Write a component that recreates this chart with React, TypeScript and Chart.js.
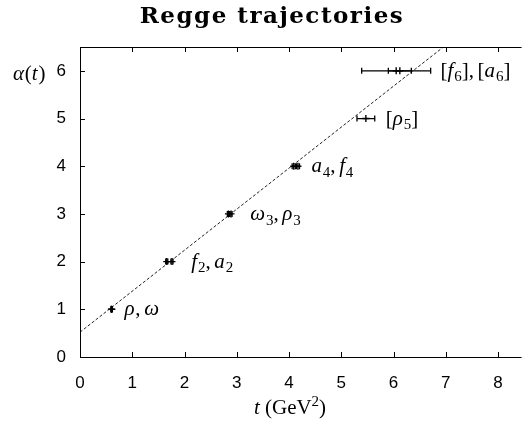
import React, { useEffect, useRef } from 'react';
import { Chart, registerables } from 'chart.js';

Chart.register(...registerables);

// Meson states along the leading Regge trajectory
const spins = [1, 1, 2, 2, 3, 3, 4, 4, 5, 6, 6];
const squaredMasses = [0.6, 0.61, 1.66, 1.76, 2.84, 2.89, 4.09, 4.17, 5.47, 6.12, 6.05];
const massErrors = [0.01, 0.01, 0.02, 0.02, 0.02, 0.02, 0.03, 0.03, 0.17, 0.22, 0.66];

// Linear trajectory alpha(t) = 0.52 + 0.86 t, given by its two end points
const trajectoryT = [0, 7.6];
const trajectoryAlpha = [0.52, 7.056];

// Text labels next to each group of states
const labelTexts = ['ρ,ω', 'f2,a2', 'ω3,ρ3', 'a4,f4', '[ρ5]', '[f6],[a6]'];
const labelT = [0.85, 2.13, 3.26, 4.43, 5.85, 6.9];
const labelAlpha = [1, 2, 3, 4, 5, 6];

const xTicks = [0, 1, 2, 3, 4, 5, 6, 7, 8];
const yTicks = [0, 1, 2, 3, 4, 5, 6];

const SERIF = '"Liberation Serif", "DejaVu Serif", serif';
const SANS = '"Liberation Sans", Arial, sans-serif';

// Draws a short math string: letters italic, digits as subscripts, punctuation upright
function drawMath(ctx: CanvasRenderingContext2D, text: string, x: number, baseline: number, size: number) {
  let cx = x;
  for (const ch of text) {
    if (/[0-9]/.test(ch)) {
      ctx.font = `${Math.round(size * 0.72)}px ${SERIF}`;
      ctx.fillText(ch, cx, baseline + size * 0.22);
      cx += ctx.measureText(ch).width;
    } else if (ch === ',') {
      ctx.font = `${size}px ${SERIF}`;
      ctx.fillText(ch, cx, baseline);
      cx += ctx.measureText(ch).width + size * 0.17;
    } else if ('[]()'.includes(ch)) {
      ctx.font = `${size}px ${SERIF}`;
      ctx.fillText(ch, cx, baseline);
      cx += ctx.measureText(ch).width;
    } else {
      ctx.font = `italic ${size}px ${SERIF}`;
      ctx.fillText(ch, cx, baseline);
      cx += ctx.measureText(ch).width + size * 0.04;
    }
  }
  return cx - x;
}

const decorPlugin = {
  id: 'reggeDecor',
  afterDatasetsDraw(chart: any) {
    const { ctx, chartArea, scales } = chart;
    const xs = scales.x;
    const ys = scales.y;
    ctx.save();
    ctx.beginPath();
    ctx.rect(chartArea.left, chartArea.top, chartArea.right - chartArea.left, chartArea.bottom - chartArea.top);
    ctx.clip();

    // horizontal error bars with end caps
    ctx.strokeStyle = '#000';
    ctx.lineWidth = 1.3;
    for (let i = 0; i < spins.length; i++) {
      const y = ys.getPixelForValue(spins[i]);
      const x0 = xs.getPixelForValue(squaredMasses[i] - massErrors[i]);
      const x1 = xs.getPixelForValue(squaredMasses[i] + massErrors[i]);
      ctx.beginPath();
      ctx.moveTo(x0, y);
      ctx.lineTo(x1, y);
      ctx.moveTo(x0, y - 3);
      ctx.lineTo(x0, y + 3);
      ctx.moveTo(x1, y - 3);
      ctx.lineTo(x1, y + 3);
      ctx.stroke();
    }
    ctx.restore();

    // state labels
    ctx.save();
    ctx.fillStyle = '#000';
    ctx.textBaseline = 'alphabetic';
    ctx.textAlign = 'left';
    for (let i = 0; i < labelTexts.length; i++) {
      const x = xs.getPixelForValue(labelT[i]);
      const y = ys.getPixelForValue(labelAlpha[i]);
      drawMath(ctx, labelTexts[i], x, y + 6, 21);
    }
    ctx.restore();
  },
  afterDraw(chart: any) {
    const { ctx, chartArea, scales } = chart;
    const xs = scales.x;
    const ys = scales.y;
    const { left, right, top, bottom } = chartArea;
    ctx.save();
    ctx.strokeStyle = '#000';
    ctx.lineWidth = 1;

    // frame: left, bottom and top edges
    ctx.beginPath();
    ctx.moveTo(left + 0.5, top + 0.5);
    ctx.lineTo(left + 0.5, bottom + 0.5);
    ctx.lineTo(right, bottom + 0.5);
    ctx.moveTo(left, top + 0.5);
    ctx.lineTo(right, top + 0.5);
    ctx.stroke();

    // inward tick marks
    ctx.beginPath();
    for (const v of xTicks) {
      const px = Math.round(xs.getPixelForValue(v)) + 0.5;
      ctx.moveTo(px, bottom);
      ctx.lineTo(px, bottom - 5);
      ctx.moveTo(px, top);
      ctx.lineTo(px, top + 5);
    }
    for (const v of yTicks) {
      const py = Math.round(ys.getPixelForValue(v)) + 0.5;
      ctx.moveTo(left, py);
      ctx.lineTo(left + 5, py);
    }
    ctx.stroke();

    ctx.fillStyle = '#000';
    ctx.textBaseline = 'alphabetic';

    // title
    ctx.font = `bold 23px "DejaVu Serif", serif`;
    (ctx as any).letterSpacing = '1.5px';
    ctx.textAlign = 'center';
    ctx.fillText('Regge trajectories', 272, 23);
    (ctx as any).letterSpacing = '0px';

    // y-axis label alpha(t)
    ctx.textAlign = 'left';
    drawMath(ctx, 'α(t)', 13, ys.getPixelForValue(6) + 9, 21);

    // x-axis label t (GeV^2)
    const size = 21;
    const baseline = 414;
    ctx.font = `italic ${size}px ${SERIF}`;
    const wT = ctx.measureText('t').width;
    ctx.font = `${size}px ${SERIF}`;
    const wSpace = ctx.measureText(' (GeV').width;
    const wClose = ctx.measureText(')').width;
    ctx.font = `${Math.round(size * 0.7)}px ${SERIF}`;
    const wSup = ctx.measureText('2').width;
    let cx = 290 - (wT + wSpace + wSup + wClose) / 2;
    ctx.font = `italic ${size}px ${SERIF}`;
    ctx.fillText('t', cx, baseline);
    cx += wT;
    ctx.font = `${size}px ${SERIF}`;
    ctx.fillText(' (GeV', cx, baseline);
    cx += wSpace;
    ctx.font = `${Math.round(size * 0.7)}px ${SERIF}`;
    ctx.fillText('2', cx, baseline - size * 0.38);
    cx += wSup;
    ctx.font = `${size}px ${SERIF}`;
    ctx.fillText(')', cx, baseline);
    ctx.restore();
  },
};

export default function App() {
  const canvasRef = useRef<HTMLCanvasElement | null>(null);

  useEffect(() => {
    const canvas = canvasRef.current;
    if (!canvas) return;
    const chart = new Chart(canvas, {
      type: 'scatter',
      data: {
        datasets: [
          {
            label: 'trajectory',
            data: trajectoryT.map((t, i) => ({ x: t, y: trajectoryAlpha[i] })),
            showLine: true,
            borderColor: '#222',
            borderWidth: 1,
            borderDash: [3, 2],
            pointRadius: 0,
            fill: false,
          },
          {
            label: 'states',
            data: squaredMasses.map((t, i) => ({ x: t, y: spins[i] })),
            pointStyle: 'cross',
            pointRadius: 3.5,
            pointBorderWidth: 1.4,
            borderColor: '#000',
            backgroundColor: '#000',
            showLine: false,
          },
        ],
      },
      options: {
        responsive: false,
        animation: false,
        layout: { padding: { top: 47, left: 0, right: 0, bottom: 0 } },
        plugins: {
          legend: { display: false },
          tooltip: { enabled: false },
          title: { display: false },
        },
        scales: {
          x: {
            type: 'linear',
            min: 0,
            max: 8.45,
            afterFit: (s: any) => {
              s.height = 71;
            },
            afterBuildTicks: (s: any) => {
              s.ticks = xTicks.map((v) => ({ value: v }));
            },
            grid: { display: false, drawTicks: false },
            border: { display: false },
            ticks: {
              color: '#000',
              font: { family: SANS, size: 17 },
              padding: 16,
              maxRotation: 0,
              autoSkip: false,
            },
          },
          y: {
            type: 'linear',
            min: 0,
            max: 6.5,
            afterFit: (s: any) => {
              s.width = 80;
            },
            afterBuildTicks: (s: any) => {
              s.ticks = yTicks.map((v) => ({ value: v }));
            },
            grid: { display: false, drawTicks: false },
            border: { display: false },
            ticks: {
              color: '#000',
              font: { family: SANS, size: 17 },
              padding: 14,
              autoSkip: false,
            },
          },
        },
      },
      plugins: [decorPlugin],
    });
    return () => chart.destroy();
  }, []);

  return (
    <canvas
      ref={canvasRef}
      width={527}
      height={428}
      style={{ position: 'absolute', left: 0, top: 0, width: 527, height: 428 }}
    />
  );
}
